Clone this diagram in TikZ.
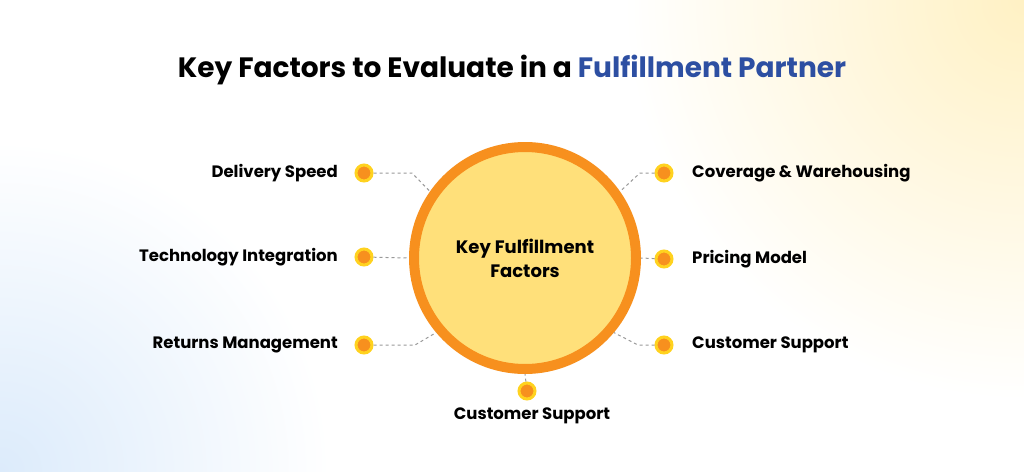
\documentclass[tikz,border=0pt]{standalone}
\usepackage{fontspec}
\setmainfont{Poppins}
\definecolor{ring}{HTML}{F7901E}
\definecolor{disc}{HTML}{FFE07A}
\definecolor{dotc}{HTML}{F7901E}
\definecolor{dotr}{HTML}{FFD21F}
\definecolor{bgb}{HTML}{DCEBFB}
\definecolor{bgy}{HTML}{FFF1C4}
\begin{document}
\begin{tikzpicture}[x=1pt,y=-1pt,
  lbl/.style={font=\fontsize{16.5}{20}\selectfont\bfseries,text=black,inner sep=0},
  dotn/.style={circle,fill=dotc,draw=dotr,line width=3pt,minimum size=16pt,inner sep=0},
  conn/.style={draw=gray!80,line width=1pt,dash pattern=on 3pt off 3pt}]
\useasboundingbox (0,0) rectangle (1024,471);
\fill[white] (0,0) rectangle (1024,471);
\shade[inner color=bgb,outer color=white] (0,471) circle (330);
\shade[inner color=bgy,outer color=white] (1024,0) circle (400);
\node[font=\fontsize{28}{32}\selectfont\bfseries] (title) at (512,70) {Key Factors to Evaluate in a \textcolor[HTML]{2D4FA2}{Fulfillment Partner}};
\node[circle,minimum size=222pt,fill=disc,draw=ring,line width=10pt,align=center,font=\fontsize{18}{24}\selectfont\bfseries] (c) at (525,258) {Key Fulfillment\\Factors};
\node[dotn] (d1) at (364,173) {}; \node[lbl,anchor=east] (l1) at (338,173) {Delivery Speed};
\node[dotn] (d2) at (364,257) {}; \node[lbl,anchor=east] (l2) at (338,257) {Technology Integration};
\node[dotn] (d3) at (364,345) {}; \node[lbl,anchor=east] (l3) at (338,345) {Returns Management};
\node[dotn] (d4) at (664,173) {}; \node[lbl,anchor=west] (l4) at (692,173) {Coverage \& Warehousing};
\node[dotn] (d5) at (664,259) {}; \node[lbl,anchor=west] (l5) at (692,259) {Pricing Model};
\node[dotn] (d6) at (664,345) {}; \node[lbl,anchor=west] (l6) at (692,345) {Customer Support};
\node[dotn] (d7) at (527,391) {}; \node[lbl] (l7) at (532,416) {Customer Support};
\coordinate (k1) at (412,173); \coordinate (k3) at (415,345);
\coordinate (k4) at (640,173); \coordinate (k6) at (638,345);
\draw[conn] (d1) -- (k1) -- (c.145);
\draw[conn] (d2) -- (c.west);
\draw[conn] (d3) -- (k3) -- (c.220);
\draw[conn] (d4) -- (k4) -- (c.35);
\draw[conn] (d5) -- (c.east);
\draw[conn] (d6) -- (k6) -- (c.320);
\draw[conn] (d7) -- (c.south);
\end{tikzpicture}
\end{document}
